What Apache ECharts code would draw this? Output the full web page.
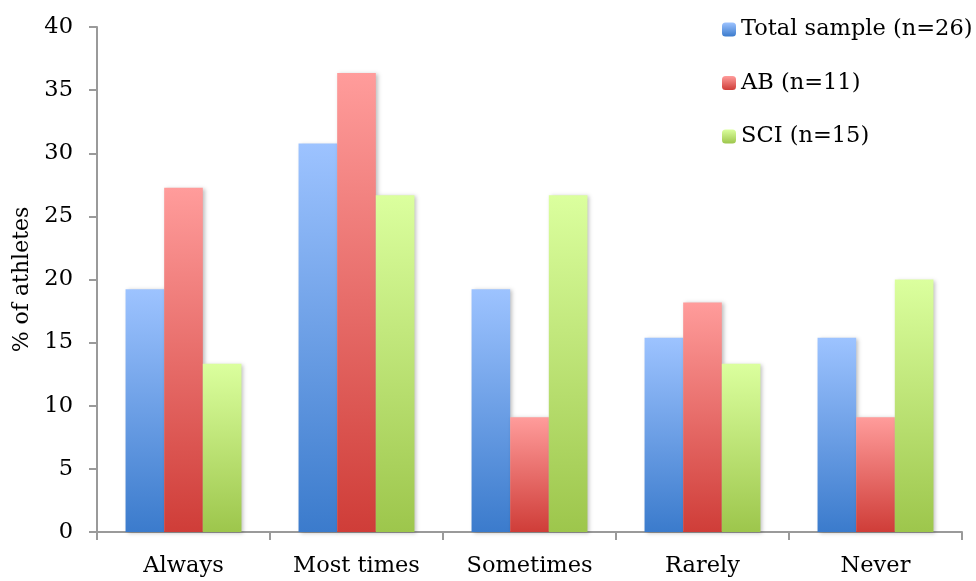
<!DOCTYPE html>
<html>
<head>
<meta charset="utf-8">
<script src="https://cdn.jsdelivr.net/npm/echarts@6/dist/echarts.min.js"></script>
<style>
  html, body { margin: 0; padding: 0; background: #fff; }
  #chart { width: 976px; height: 581px; }
</style>
</head>
<body>
<div id="chart"></div>
<script>
// Response frequency categories
const categories = ['Always', 'Most times', 'Sometimes', 'Rarely', 'Never'];

// Percentage of athletes per group
const totalSample = [19.23, 30.77, 19.23, 15.38, 15.38];
const abGroup = [27.27, 36.36, 9.09, 18.18, 9.09];
const sciGroup = [13.33, 26.67, 26.67, 13.33, 20.0];

const seriesNames = ['Total sample (n=26)', 'AB (n=11)', 'SCI (n=15)'];
const yTicks = { min: 0, max: 40, interval: 5 };

const FONT = '"DejaVu Serif", serif';
const FS = 22.5;

function grad(top, bottom) {
  return new echarts.graphic.LinearGradient(0, 0, 0, 1, [
    { offset: 0, color: top },
    { offset: 1, color: bottom }
  ]);
}

const palettes = [
  ['#9dc3ff', '#3b7bcc'],
  ['#ff9c9b', '#cf3d38'],
  ['#dbff9e', '#9dc64c']
];

const chart = echarts.init(document.getElementById('chart'));

const dataSets = [totalSample, abGroup, sciGroup];

chart.setOption({
  animation: false,
  grid: { left: 97, right: 14, top: 27, bottom: 49, containLabel: false },
  legend: {
    orient: 'vertical',
    left: 717,
    top: 13,
    itemWidth: 14,
    itemHeight: 14,
    itemGap: 30.5,
    textStyle: { fontFamily: FONT, fontSize: FS, color: '#000' },
    data: seriesNames
  },
  xAxis: {
    type: 'category',
    data: categories,
    axisLine: { lineStyle: { color: '#9a9a9a', width: 2 } },
    axisTick: { show: true, length: 8, lineStyle: { color: '#9a9a9a', width: 2 } },
    axisLabel: { fontFamily: FONT, fontSize: FS, color: '#000', margin: 23 }
  },
  yAxis: {
    type: 'value',
    min: yTicks.min,
    max: yTicks.max,
    interval: yTicks.interval,
    name: '% of athletes',
    nameLocation: 'middle',
    nameGap: 57,
    nameTextStyle: { fontFamily: FONT, fontSize: 22, color: '#000' },
    axisLine: { show: true, lineStyle: { color: '#9a9a9a', width: 2 } },
    axisTick: { show: true, length: 8, lineStyle: { color: '#9a9a9a', width: 2 } },
    splitLine: { show: false },
    axisLabel: { fontFamily: FONT, fontSize: FS, color: '#000', margin: 24 }
  },
  series: dataSets.map((d, i) => ({
    name: seriesNames[i],
    type: 'bar',
    data: d,
    barGap: '0%',
    barCategoryGap: '33%',
    itemStyle: {
      color: grad(palettes[i][0], palettes[i][1]),
      shadowColor: 'rgba(0,0,0,0.25)',
      shadowBlur: 4,
      shadowOffsetX: 2,
      shadowOffsetY: 1
    }
  }))
});
</script>
</body>
</html>
